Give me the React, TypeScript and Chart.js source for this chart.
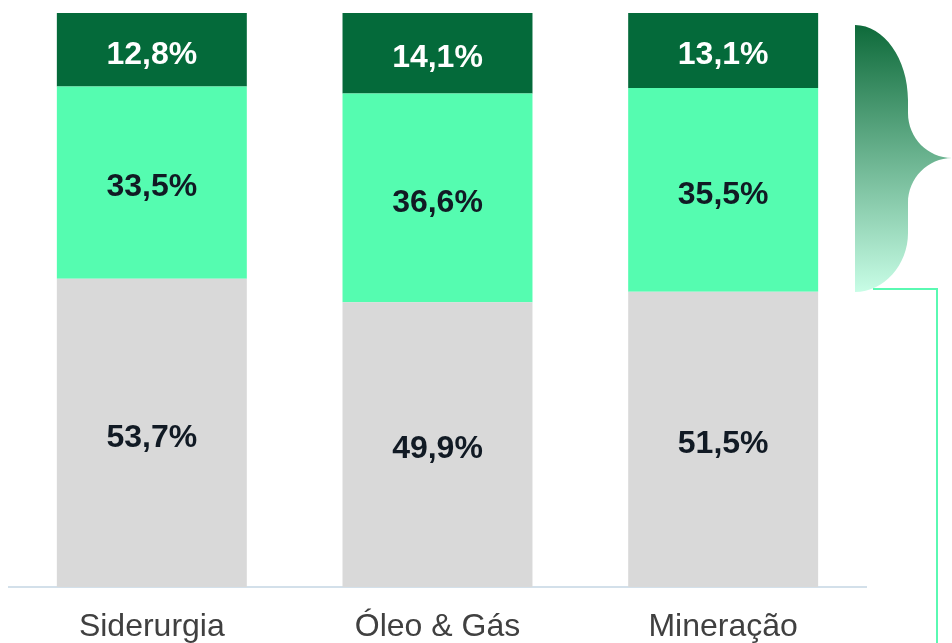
import React, { useEffect, useRef } from "react";
import { Chart, registerables } from "chart.js";

Chart.register(...registerables);

const categories = ["Siderurgia", "Óleo & Gás", "Mineração"];
const bottomValues = [53.7, 49.9, 51.5];
const middleValues = [33.5, 36.6, 35.5];
const topValues = [12.8, 14.1, 13.1];
const seriesNames = ["Base", "Intermediário", "Topo"];

const totals = categories.map((_, i) => bottomValues[i] + middleValues[i] + topValues[i]);
const toShare = (arr: number[]) => arr.map((v, i) => (v / totals[i]) * 100);
const fmt = (v: number) => v.toFixed(1).replace(".", ",") + "%";

const FONT = "'Liberation Sans', Arial, sans-serif";

const labelPlugin = {
  id: "segLabels",
  afterDatasetsDraw(chart: any) {
    const ctx = chart.ctx;
    ctx.save();
    ctx.font = `bold 32px ${FONT}`;
    ctx.textAlign = "center";
    ctx.textBaseline = "middle";
    chart.data.datasets.forEach((ds: any, di: number) => {
      const meta = chart.getDatasetMeta(di);
      meta.data.forEach((el: any, i: number) => {
        const raw = ds.rawValues[i];
        const cy = (el.y + el.base) / 2 + 5;
        ctx.fillStyle = ds.labelColor;
        ctx.fillText(fmt(raw), el.x, cy);
      });
    });
    ctx.restore();
  },
};

const bracePlugin = {
  id: "brace",
  afterDraw(chart: any) {
    const ctx = chart.ctx;
    ctx.save();
    const grad = ctx.createLinearGradient(0, 25, 0, 292);
    grad.addColorStop(0, "#0E6A3A");
    grad.addColorStop(1, "#C8FDE6");
    ctx.fillStyle = grad;
    ctx.beginPath();
    ctx.moveTo(855, 25);
    ctx.bezierCurveTo(884, 25, 908, 59, 908, 100);
    ctx.lineTo(908, 113);
    ctx.bezierCurveTo(908, 138, 928, 158, 952, 158);
    ctx.bezierCurveTo(928, 158, 908, 178, 908, 203);
    ctx.lineTo(908, 233);
    ctx.bezierCurveTo(908, 265, 884, 292, 855, 292);
    ctx.closePath();
    ctx.fill();

    ctx.strokeStyle = "#5AF9B2";
    ctx.lineWidth = 2;
    ctx.beginPath();
    ctx.moveTo(873, 289);
    ctx.lineTo(937, 289);
    ctx.lineTo(937, 643);
    ctx.stroke();
    ctx.restore();
  },
};

export default function App() {
  const ref = useRef<HTMLCanvasElement | null>(null);

  useEffect(() => {
    document.body.style.margin = "0";
    if (!ref.current) return;
    const chart = new Chart(ref.current, {
      type: "bar",
      data: {
        labels: categories,
        datasets: [
          {
            label: seriesNames[0],
            data: toShare(bottomValues),
            rawValues: bottomValues,
            labelColor: "#111A24",
            backgroundColor: "#D9D9D9",
            barPercentage: 0.665,
            categoryPercentage: 1,
          } as any,
          {
            label: seriesNames[1],
            data: toShare(middleValues),
            rawValues: middleValues,
            labelColor: "#111A24",
            backgroundColor: "#55FCB0",
            barPercentage: 0.665,
            categoryPercentage: 1,
          } as any,
          {
            label: seriesNames[2],
            data: toShare(topValues),
            rawValues: topValues,
            labelColor: "#FFFFFF",
            backgroundColor: "#046A3A",
            barPercentage: 0.665,
            categoryPercentage: 1,
          } as any,
        ],
      },
      options: {
        responsive: false,
        animation: false,
        layout: { padding: { left: 9, right: 86, top: 13, bottom: 0 } },
        plugins: { legend: { display: false }, tooltip: { enabled: false } },
        scales: {
          x: {
            stacked: true,
            grid: { display: false },
            border: { display: true, color: "#D3E0EA", width: 2 },
            ticks: {
              color: "#404040",
              font: { family: FONT, size: 32 },
              padding: 13,
            },
            afterFit(scale: any) {
              scale.height = 56;
            },
          },
          y: {
            stacked: true,
            display: false,
            min: 0,
            max: 100,
          },
        },
      },
      plugins: [labelPlugin, bracePlugin],
    });
    return () => chart.destroy();
  }, []);

  return (
    <div style={{ width: 952, height: 643 }}>
      <canvas ref={ref} width={952} height={643} style={{ display: "block" }} />
    </div>
  );
}
